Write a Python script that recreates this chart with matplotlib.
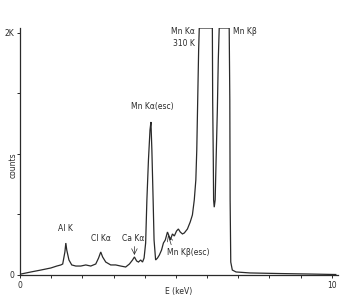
import matplotlib
matplotlib.use("Agg")
import matplotlib.pyplot as plt
import numpy as np

# Spectrum (energy in keV, counts); peaks clipped at top
energy = [0.03, 0.35, 0.67, 0.99, 1.18, 1.31, 1.37, 1.44, 1.47, 1.50, 1.57, 1.66,
          1.79, 1.95, 2.11, 2.27, 2.43, 2.52, 2.59, 2.65, 2.75, 2.91, 3.07, 3.23,
          3.39, 3.51, 3.61, 3.67, 3.74, 3.80, 3.87, 3.93, 3.98, 4.03, 4.07, 4.12,
          4.17, 4.20, 4.23, 4.27, 4.30, 4.35, 4.41, 4.47, 4.54, 4.60, 4.66, 4.73,
          4.78, 4.82, 4.89, 4.95, 5.02, 5.08, 5.14, 5.21, 5.27, 5.37, 5.46, 5.53,
          5.59, 5.64, 5.67, 5.70, 5.73, 5.75, 6.17, 6.18, 6.20, 6.21, 6.23, 6.26,
          6.29, 6.33, 6.36, 6.39, 6.71, 6.73, 6.74, 6.76, 6.81, 6.93, 7.38, 8.34,
          9.30, 10.13]
counts = [8, 25, 41, 58, 74, 83, 91, 190, 264, 206, 124, 83,
          74, 74, 83, 74, 91, 140, 190, 149, 107, 83, 83, 74,
          66, 91, 124, 149, 116, 107, 124, 107, 140, 264, 620, 950,
          1198, 1264, 1032, 620, 289, 124, 140, 165, 206, 264, 289, 355,
          322, 289, 339, 322, 363, 380, 355, 339, 347, 380, 438, 496,
          620, 785, 1032, 1446, 1859, 2040, 2040, 1446, 950, 620, 560, 620,
          950, 1363, 1776, 2040, 2040, 1446, 620, 107, 41, 25, 17, 12,
          8, 4]

labels = ["Al K", "Cl K\u03b1", "Ca K\u03b1", "Mn K\u03b1(esc)", "Mn K\u03b2(esc)"]
label_x = [1.45, 2.60, 3.64, 4.25, 5.40]
label_y = [347, 264, 264, 1355, 149]

xtick_vals = [0, 1, 2, 3, 4, 5, 6, 7, 8, 9, 10]
xtick_labels = ["0", "", "", "", "", "", "", "", "", "", "10"]
ytick_vals = [0, 500, 1000, 1500, 2000]
ytick_labels = ["0", "", "", "", "2K"]

ink = "#2a2a2a"
fig = plt.figure(figsize=(3.5, 3.0), dpi=100)
ax = fig.add_axes([20/350, 25/300, 318/350, 247/300])
ax.plot(energy, counts, color=ink, lw=0.9, solid_joinstyle="miter")
ax.set_xlim(0, 10.2)
ax.set_ylim(0, 2040)
for s in ["top", "right"]:
    ax.spines[s].set_visible(False)
for s in ["left", "bottom"]:
    ax.spines[s].set_color(ink)
    ax.spines[s].set_linewidth(0.9)
ax.set_xticks(xtick_vals)
ax.set_xticklabels(xtick_labels)
ax.set_yticks(ytick_vals)
ax.set_yticklabels(ytick_labels)
ax.tick_params(axis="both", length=2.5, width=0.7, color=ink, labelsize=5.5,
               labelcolor=ink, pad=1.5)
ax.set_xlabel("E (keV)", fontsize=5.5, color=ink, labelpad=-2)
ax.text(-0.022, 0.445, "counts", transform=ax.transAxes, rotation=90,
        ha="center", va="center", fontsize=5.5, color=ink)

fs = 5.5
for t, x, y in zip(labels, label_x, label_y):
    ax.text(x, y, t, ha="center", va="bottom", fontsize=fs, color=ink)

ax.text(5.62, 2007, "Mn K\u03b1", ha="right", va="center", fontsize=fs, color=ink)
ax.text(5.62, 1908, "310 K", ha="right", va="center", fontsize=fs, color=ink)
ax.text(6.84, 2007, "Mn K\u03b2", ha="left", va="center", fontsize=fs, color=ink)

ax.annotate("", xy=(3.67, 165), xytext=(3.67, 235),
            arrowprops=dict(arrowstyle="->", lw=0.5, color=ink, shrinkA=0, shrinkB=0))
ax.annotate("", xy=(4.75, 330), xytext=(4.85, 250),
            arrowprops=dict(arrowstyle="->", lw=0.5, color=ink, shrinkA=0, shrinkB=0))

fig.savefig("out.png", dpi=100)
